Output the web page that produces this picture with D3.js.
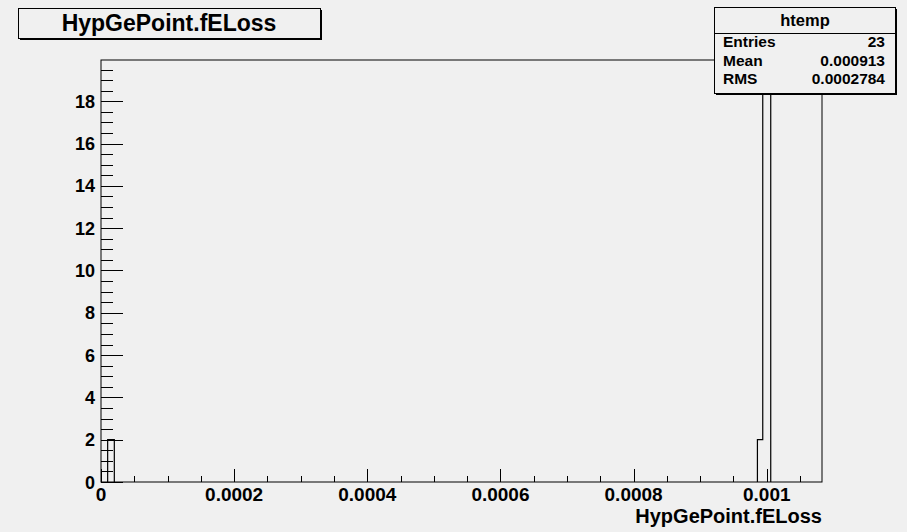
<!DOCTYPE html>
<html>
<head>
<meta charset="utf-8">
<script src="https://cdn.jsdelivr.net/npm/d3@7"></script>
<style>
  html, body { margin: 0; padding: 0; background: #f0f0f0; }
  svg { display: block; }
  text { font-family: "Liberation Sans", Arial, sans-serif; font-weight: bold; fill: #000; }
</style>
</head>
<body>
<script>
// Histogram of HypGePoint.fELoss (23 entries)
const binLow  = [0.00001, 0.000986, 0.000994];
const binHigh = [0.00002, 0.000994, 0.001006];
const counts  = [2, 2, 19];

const xTickValues = [0, 0.0002, 0.0004, 0.0006, 0.0008, 0.001];
const xTickLabels = ["0", "0.0002", "0.0004", "0.0006", "0.0008", "0.001"];
const yTickValues = [0, 2, 4, 6, 8, 10, 12, 14, 16, 18];

const histName = "htemp";
const varName = "HypGePoint.fELoss";
const statLabels = ["Entries", "Mean", "RMS"];
const statValues = ["23", "0.000913", "0.0002784"];

const W = 907, H = 532;
const frame = { left: 101, right: 822, top: 60, bottom: 482 };
const xMax = 0.001083;
const yMax = 19.95;

const svg = d3.select("body").append("svg").attr("width", W).attr("height", H);
svg.append("rect").attr("width", W).attr("height", H).attr("fill", "#f0f0f0");

const x = d3.scaleLinear().domain([0, xMax]).range([frame.left, frame.right]);
const y = d3.scaleLinear().domain([0, yMax]).range([frame.bottom, frame.top]);

// frame
svg.append("rect")
  .attr("x", frame.left).attr("y", frame.top)
  .attr("width", frame.right - frame.left).attr("height", frame.bottom - frame.top)
  .attr("fill", "none").attr("stroke", "#000").attr("stroke-width", 1);

svg.append("clipPath").attr("id", "frameClip")
  .append("rect").attr("x", frame.left).attr("y", frame.top)
  .attr("width", frame.right - frame.left).attr("height", frame.bottom - frame.top);

// histogram outline, contiguous bins joined into one step path
const bins = binLow.map((lo, i) => ({ lo, hi: binHigh[i], c: counts[i] }));
const groups = [];
bins.forEach(b => {
  const g = groups[groups.length - 1];
  if (g && Math.abs(g[g.length - 1].hi - b.lo) < 1e-12) g.push(b); else groups.push([b]);
});
const pathFor = g => {
  let p = `M${x(g[0].lo)},${y(0)}`;
  g.forEach(b => { p += `L${x(b.lo)},${y(b.c)}L${x(b.hi)},${y(b.c)}`; });
  p += `L${x(g[g.length - 1].hi)},${y(0)}`;
  return p;
};
svg.append("g").attr("clip-path", "url(#frameClip)")
  .selectAll("path").data(groups).join("path")
  .attr("d", pathFor)
  .attr("fill", "none").attr("stroke", "#000").attr("stroke-width", 1.2);

// x axis
const xAxisG = svg.append("g").attr("transform", `translate(0,${frame.bottom})`);
const xMinor = d3.range(0, xMax + 1e-12, 0.00005);
xAxisG.selectAll("line.minor").data(xMinor).join("line")
  .attr("x1", d => Math.round(x(d)) + 0.5).attr("x2", d => Math.round(x(d)) + 0.5)
  .attr("y1", 0).attr("y2", -6).attr("stroke", "#000");
xAxisG.selectAll("line.major").data(xTickValues).join("line")
  .attr("x1", d => Math.round(x(d)) + 0.5).attr("x2", d => Math.round(x(d)) + 0.5)
  .attr("y1", 0).attr("y2", -13).attr("stroke", "#000");
xAxisG.selectAll("text").data(xTickValues).join("text")
  .attr("x", d => x(d)).attr("y", 18.5)
  .attr("text-anchor", "middle").attr("font-size", 19)
  .text((d, i) => xTickLabels[i]);
svg.append("text").attr("x", frame.right).attr("y", 523)
  .attr("text-anchor", "end").attr("font-size", 20).text(varName);

// y axis
const yAxisG = svg.append("g").attr("transform", `translate(${frame.left},0)`);
const yMinor = d3.range(0, yMax, 0.5);
yAxisG.selectAll("line.minor").data(yMinor).join("line")
  .attr("y1", d => Math.round(y(d)) + 0.5).attr("y2", d => Math.round(y(d)) + 0.5)
  .attr("x1", 0).attr("x2", 12).attr("stroke", "#000");
yAxisG.selectAll("line.major").data(yTickValues).join("line")
  .attr("y1", d => Math.round(y(d)) + 0.5).attr("y2", d => Math.round(y(d)) + 0.5)
  .attr("x1", 0).attr("x2", 22).attr("stroke", "#000");
yAxisG.selectAll("text").data(yTickValues).join("text")
  .attr("x", -6).attr("y", d => y(d) + 6.5)
  .attr("text-anchor", "end").attr("font-size", 18)
  .text(d => d);

// boxes with drop shadow
function shadowBox(x0, y0, w, h) {
  svg.append("rect").attr("x", x0 + 2).attr("y", y0 + 2).attr("width", w).attr("height", h).attr("fill", "#000");
  svg.append("rect").attr("x", x0 + 0.5).attr("y", y0 + 0.5).attr("width", w).attr("height", h)
    .attr("fill", "#f0f0f0").attr("stroke", "#000").attr("stroke-width", 1);
}

// title
shadowBox(18, 8, 302, 30);
svg.append("text").attr("x", 169).attr("y", 31).attr("text-anchor", "middle")
  .attr("font-size", 23).text(varName);

// statistics box
const sb = { x: 714, y: 7, w: 181, h: 86 };
shadowBox(sb.x, sb.y, sb.w, sb.h);
svg.append("line").attr("x1", sb.x).attr("x2", sb.x + sb.w)
  .attr("y1", 33.5).attr("y2", 33.5).attr("stroke", "#000");
svg.append("text").attr("x", sb.x + sb.w / 2 + 0.5).attr("y", 26).attr("text-anchor", "middle")
  .attr("font-size", 16.5).text(histName);
const rowY = [47, 65.5, 84];
svg.selectAll("text.slab").data(statLabels).join("text").attr("class", "slab")
  .attr("x", 723).attr("y", (d, i) => rowY[i]).attr("font-size", 15.5).text(d => d);
svg.selectAll("text.sval").data(statValues).join("text").attr("class", "sval")
  .attr("x", 885).attr("y", (d, i) => rowY[i]).attr("text-anchor", "end")
  .attr("font-size", 15.5).text(d => d);
</script>
</body>
</html>
